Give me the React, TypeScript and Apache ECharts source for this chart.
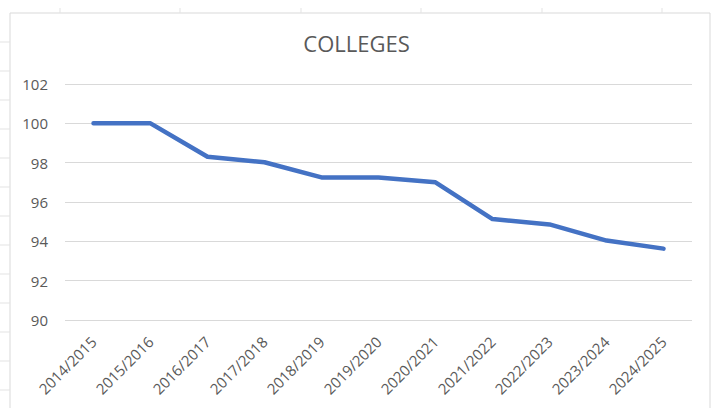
import React, { useEffect, useRef } from "react";
import * as echarts from "echarts";

const categories = [
  "2014/2015", "2015/2016", "2016/2017", "2017/2018", "2018/2019", "2019/2020",
  "2020/2021", "2021/2022", "2022/2023", "2023/2024", "2024/2025",
];
const values = [100, 100, 98.3, 98.02, 97.25, 97.25, 97.0, 95.13, 94.86, 94.04, 93.63];
const yMin = 90;
const yMax = 102;
const yStep = 2;
const titleText = "COLLEGES";

export default function App() {
  const ref = useRef<HTMLDivElement>(null);
  useEffect(() => {
    if (!ref.current) return;
    const chart = echarts.init(ref.current, null, { renderer: "svg" });
    const lineColor = "#d9d9d9";
    const sheetTicksLeft = [42, 71, 100, 129, 158, 187, 216, 245, 274, 303, 332, 361, 390];
    const sheetTicksTop = [60, 180, 301, 421, 542, 662];
    const graphics: any[] = [
      {
        type: "rect",
        shape: { x: 10, y: 13, width: 700, height: 420 },
        style: { fill: "none", stroke: lineColor, lineWidth: 1 },
        silent: true,
      },
      ...sheetTicksLeft.map((y) => ({
        type: "line",
        shape: { x1: 0, y1: y, x2: 10, y2: y },
        style: { stroke: "#e3e3e3", lineWidth: 1 },
        silent: true,
      })),
      ...sheetTicksTop.map((x) => ({
        type: "line",
        shape: { x1: x, y1: 8, x2: x, y2: 13 },
        style: { stroke: "#e3e3e3", lineWidth: 1 },
        silent: true,
      })),
    ];
    chart.setOption({
      animation: false,
      backgroundColor: "#ffffff",
      title: {
        text: titleText,
        left: "center",
        top: 27,
        textStyle: {
          fontFamily: "Open Sans",
          fontSize: 22,
          fontWeight: "normal",
          color: "#595959",
        },
      },
      graphic: graphics,
      grid: { left: 65, right: 21, top: 84, bottom: 88 },
      xAxis: {
        type: "category",
        data: categories,
        boundaryGap: true,
        axisLine: { show: false },
        axisTick: { show: false },
        axisLabel: {
          rotate: 45,
          margin: 19,
          interval: 0,
          fontFamily: "Open Sans",
          fontSize: 15,
          color: "#595959",
        },
      },
      yAxis: {
        type: "value",
        min: yMin,
        max: yMax,
        interval: yStep,
        axisLine: { show: false },
        axisTick: { show: false },
        axisLabel: {
          margin: 17,
          fontFamily: "Open Sans",
          fontSize: 15,
          color: "#595959",
        },
        splitLine: { lineStyle: { color: lineColor, width: 1 } },
      },
      series: [
        {
          type: "line",
          data: values,
          symbol: "none",
          lineStyle: { color: "#4472C4", width: 4.5, cap: "round", join: "round" },
        },
      ],
    });
    return () => chart.dispose();
  }, []);
  return <div ref={ref} style={{ width: 713, height: 408, position: "absolute", left: 0, top: 0 }} />;
}
